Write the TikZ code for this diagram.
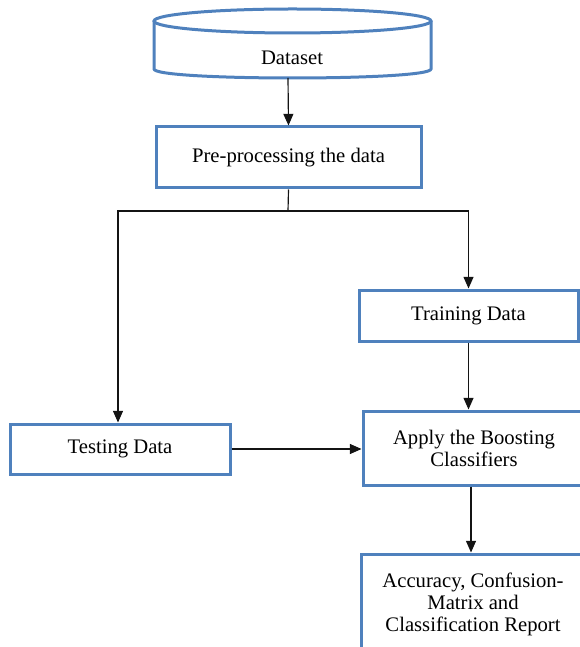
\documentclass[tikz,border=0pt]{standalone}
\usepackage{fontspec}
\setmainfont{Liberation Serif}
\definecolor{boxblue}{RGB}{79, 129, 189}
\definecolor{arrgray}{RGB}{20, 20, 20}
\usetikzlibrary{arrows.meta, positioning, calc}

\begin{document}
\begin{tikzpicture}[x=0.6pt, y=-0.6pt,
    box/.style={draw=boxblue, line width=1.8pt, fill=white, align=center,
      font=\fontsize{12.4}{13.2}\selectfont, inner sep=0pt},
    arr/.style={-{Triangle[width=6pt, length=7pt]}, draw=arrgray, line width=0.7pt}]
  \useasboundingbox (0,0) rectangle (580,647);

  % Dataset cylinder
  \draw[boxblue, line width=1.8pt, fill=white]
    (154,21) -- (154,69) .. controls (154,81) and (431,81) .. (431,69) -- (431,21);
  \draw[boxblue, line width=1.8pt, fill=white]
    (292.5,21) ellipse [x radius=83.1pt, y radius=7.2pt];
  \node[font=\fontsize{12.4}{13.2}\selectfont] (dataset) at (292,58) {Dataset};
  \coordinate (dsbot) at (288,78);

  % Boxes
  \node[box, minimum width=159pt, minimum height=36.6pt] (prep) at (288.5,157.5)
    {Pre-processing the data};
  \node[box, minimum width=131.4pt, minimum height=30.6pt] (train) at (468.5,315.5)
    {Training Data};
  \node[box, minimum width=132pt, minimum height=30pt] (test) at (120,449)
    {Testing Data};
  \node[box, minimum width=133.2pt, minimum height=44.4pt] (apply) at (474,448)
    {Apply the Boosting\\Classifiers};
  \node[box, minimum width=134.4pt, minimum height=60pt] (report) at (473,604)
    {Accuracy, Confusion-\\Matrix and\\Classification Report};

  % Connectors
  \coordinate (fork) at (288,211);
  \draw[arr] (dsbot) -- (prep.north);
  \draw[draw=arrgray, line width=0.7pt] (prep.south) -- (fork);
  \draw[arr] (fork) -| (train.north);
  \draw[arr] (fork) -| ([xshift=-1.2pt]test.north);
  \draw[arr] (train.south) -- (train.south |- apply.north);
  \draw[arr] (test.east) -- (test.east -| apply.west);
  \draw[arr] ([xshift=-1.8pt]apply.south) -- ([xshift=-1.8pt]apply.south |- report.north);
\end{tikzpicture}
\end{document}
